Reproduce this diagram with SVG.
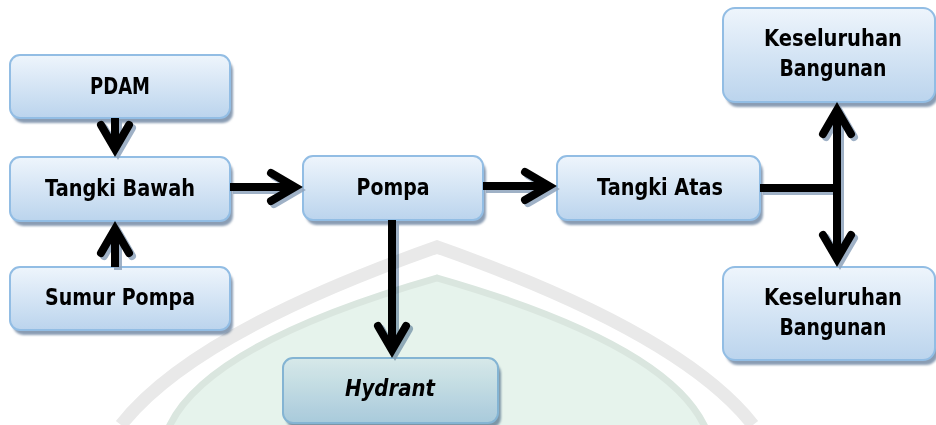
<svg xmlns="http://www.w3.org/2000/svg" xmlns:xlink="http://www.w3.org/1999/xlink" width="936" height="425" viewBox="0 0 936 425">
  <defs>
    <linearGradient id="boxFill" x1="0" y1="0" x2="0" y2="1">
      <stop offset="0" stop-color="#eef5fc"/>
      <stop offset="1" stop-color="#bbd4ed"/>
    </linearGradient>
    <filter id="soft" x="-5%" y="-5%" width="110%" height="120%">
      <feGaussianBlur stdDeviation="0.8"/>
    </filter>
  </defs>
  <style>
    .shadow { fill: #8a9db4; filter: url(#soft); }
    .box { fill: url(#boxFill); stroke: #92bde4; stroke-width: 2; }
    .lbl { font-family: "DejaVu Sans", "Liberation Sans", sans-serif; font-weight: bold; font-size: 22.5px; fill: #000; text-anchor: middle; }
    .it { font-style: italic; }
    .conn path { fill: none; stroke-width: 8; stroke-linejoin: miter; stroke-miterlimit: 4; }
    .conn .head { stroke-linecap: round; }
  </style>
  <rect width="936" height="425" fill="#ffffff"/>

  <g id="node-pdam">
    <rect class="shadow" x="13" y="60" width="220" height="63" rx="10"/>
    <rect class="box" x="10" y="55" width="220" height="63" rx="10"/>
    <text class="lbl" x="120" y="94" textLength="60" lengthAdjust="spacingAndGlyphs">PDAM</text>
  </g>
  <g id="node-tangki-bawah">
    <rect class="shadow" x="13" y="162" width="220" height="64" rx="10"/>
    <rect class="box" x="10" y="157" width="220" height="64" rx="10"/>
    <text class="lbl" x="120" y="196" textLength="150" lengthAdjust="spacingAndGlyphs">Tangki Bawah</text>
  </g>
  <g id="node-sumur-pompa">
    <rect class="shadow" x="13" y="272" width="220" height="63" rx="10"/>
    <rect class="box" x="10" y="267" width="220" height="63" rx="10"/>
    <text class="lbl" x="120" y="305" textLength="150" lengthAdjust="spacingAndGlyphs">Sumur Pompa</text>
  </g>
  <g id="node-pompa">
    <rect class="shadow" x="306" y="161" width="180" height="64" rx="10"/>
    <rect class="box" x="303" y="156" width="180" height="64" rx="10"/>
    <text class="lbl" x="393" y="195" textLength="73" lengthAdjust="spacingAndGlyphs">Pompa</text>
  </g>
  <g id="node-tangki-atas">
    <rect class="shadow" x="560" y="161" width="203" height="64" rx="10"/>
    <rect class="box" x="557" y="156" width="203" height="64" rx="10"/>
    <text class="lbl" x="660" y="195" textLength="126" lengthAdjust="spacingAndGlyphs">Tangki Atas</text>
  </g>
  <g id="node-hydrant">
    <rect class="shadow" x="286" y="363" width="215" height="65" rx="10"/>
    <rect class="box" x="283" y="358" width="215" height="65" rx="10"/>
    <text class="lbl it" x="390" y="396" textLength="90" lengthAdjust="spacingAndGlyphs">Hydrant</text>
  </g>
  <g id="node-keseluruhan-atas">
    <rect class="shadow" x="726" y="13" width="212" height="94" rx="12"/>
    <rect class="box" x="723" y="8" width="212" height="94" rx="12"/>
    <text class="lbl" x="833" y="46" textLength="138" lengthAdjust="spacingAndGlyphs">Keseluruhan</text>
    <text class="lbl" x="833" y="76" textLength="107" lengthAdjust="spacingAndGlyphs">Bangunan</text>
  </g>
  <g id="node-keseluruhan-bawah">
    <rect class="shadow" x="726" y="272" width="212" height="93" rx="12"/>
    <rect class="box" x="723" y="267" width="212" height="93" rx="12"/>
    <text class="lbl" x="833" y="305" textLength="138" lengthAdjust="spacingAndGlyphs">Keseluruhan</text>
    <text class="lbl" x="833" y="335" textLength="107" lengthAdjust="spacingAndGlyphs">Bangunan</text>
  </g>

  <use xlink:href="#conn-lines" href="#conn-lines" class="conn" stroke="#8fa4bd" opacity="0.85" transform="translate(3,3)"/>
  <g id="connectors" class="conn" stroke="#000000">
    <g id="conn-lines">
      <path d="M115 118 V150"/>
      <path class="head" d="M101 125 L115 149 L129 125"/>
      <path d="M115 267 V228"/>
      <path class="head" d="M101 253 L115 229 L129 253"/>
      <path d="M230 187 H296"/>
      <path class="head" d="M271 173 L295 187 L271 201"/>
      <path d="M483 186 H550"/>
      <path class="head" d="M525 172 L549 186 L525 200"/>
      <path d="M392 220 V351"/>
      <path class="head" d="M378 326 L392 350 L406 326"/>
      <path d="M760 188 H841"/>
      <path d="M837 110 V260"/>
      <path class="head" d="M823 134 L837 110 L851 134"/>
      <path class="head" d="M823 235 L837 259 L851 235"/>
    </g>
  </g>

  <g id="watermark" style="mix-blend-mode:multiply">
    <path d="M121 425 Q193 333 437 247 Q681 333 753 425" fill="none" stroke="#e9e9e9" stroke-width="13" stroke-linejoin="miter"/>
    <path d="M160 445 L170 425 Q210 343 437 278 Q664 343 704 425 L714 445 Z" fill="#e6f3ec" stroke="#dae6df" stroke-width="7" stroke-linejoin="miter"/>
  </g>
</svg>
